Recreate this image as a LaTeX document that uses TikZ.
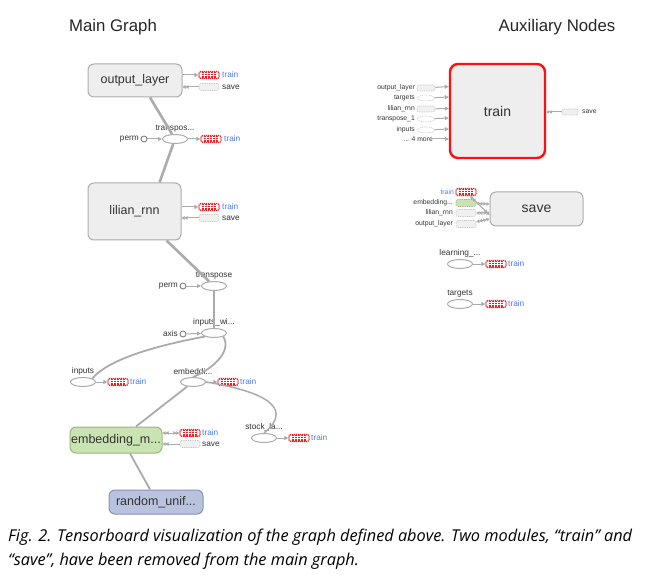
\documentclass[tikz,border=0pt]{standalone}
\usepackage{fontspec}
\setmainfont{Liberation Sans}
\newfontfamily\capfont{Open Sans}
\usetikzlibrary{shapes.geometric,arrows.meta}
\definecolor{edgegray}{HTML}{ABABAB}
\definecolor{boxfill}{HTML}{EEEEEE}
\definecolor{boxborder}{HTML}{ADADAD}
\definecolor{greenfill}{HTML}{C9E3B2}
\definecolor{greenborder}{HTML}{98B67E}
\definecolor{bluefill}{HTML}{B9C3DF}
\definecolor{blueborder}{HTML}{8893B5}
\definecolor{trainblue}{HTML}{4A7BF0}
\definecolor{chipred}{HTML}{F01E1E}
\definecolor{txt}{HTML}{333333}
\definecolor{trainred}{HTML}{FF1010}
\tikzset{
  opbox/.style={draw=boxborder, fill=boxfill, rounded corners=6pt, line width=1pt,
    font=\fontsize{12.5}{14}\selectfont, text=txt, inner sep=0},
  opell/.style={ellipse, draw=edgegray, fill=white, line width=1pt,
    minimum width=25pt, minimum height=9pt, inner sep=0},
  constc/.style={circle, draw=gray, line width=0.9pt, minimum size=6pt, inner sep=0, fill=white},
  redchip/.style={draw=chipred, dash pattern=on 1.2pt off 0.8pt, rounded corners=2pt,
    minimum width=20pt, minimum height=7pt, inner sep=0, line width=1.3pt, fill=white,
    path picture={\foreach \dx in {-6,-3,0,3,6}
      \draw[chipred, line width=1.3pt, dash pattern=on 1.1pt off 0.7pt]
        ([xshift=\dx pt]path picture bounding box.south) -- ([xshift=\dx pt]path picture bounding box.north);}},
  graychip/.style={draw=gray!45, dash pattern=on 1pt off 0.8pt, fill=gray!12, rounded corners=2pt,
    minimum width=20pt, minimum height=7pt, inner sep=0, line width=0.6pt},
  greenchip/.style={graychip, draw=greenborder, fill=greenfill},
  ellchip/.style={ellipse, draw=gray!45, dash pattern=on 1pt off 0.8pt, fill=white,
    minimum width=17pt, minimum height=6pt, inner sep=0, line width=0.6pt},
  small/.style={font=\fontsize{8.3}{9}\selectfont, text=txt, inner sep=0},
  tiny/.style={font=\fontsize{6.8}{8}\selectfont, text=txt, inner sep=0},
  bluetxt/.style={small, text=trainblue},
  tensor/.style={draw=edgegray, line width=2.6pt},
  tensorthin/.style={draw=edgegray, line width=1.8pt},
  ref/.style={draw=edgegray, line width=1pt, -{Triangle[length=4pt,width=4pt]}},
  dref/.style={draw=edgegray, line width=1pt, -{Triangle[length=3pt,width=3.5pt] Triangle[length=3pt,width=3.5pt]}},
  bref/.style={draw=edgegray, line width=1pt, {Triangle[length=3pt,width=3.5pt] Triangle[length=3pt,width=3.5pt]}-{Triangle[length=3pt,width=3.5pt] Triangle[length=3pt,width=3.5pt]}},
  titletxt/.style={font=\fontsize{16.8}{18}\selectfont, text=black!85, inner sep=0},
  captxt/.style={font=\capfont\itshape\fontsize{16.3}{18}\selectfont, text=black, inner sep=0, anchor=west}
}
\begin{document}
\begin{tikzpicture}[x=1pt,y=-1pt]
\useasboundingbox (0,0) rectangle (654,575);
% titles
\node[titletxt] (t1) at (113,27) {Main Graph};
\node[titletxt] (t2) at (557,27) {Auxiliary Nodes};

% ===== main graph =====
\node[opbox, minimum width=94pt, minimum height=33pt] (OL) at (135,80.5) {output\_layer};
\node[redchip] (olc1) at (209,75) {};
\node[bluetxt, anchor=west] (olt1) at (222,75) {train};
\node[graychip] (olc2) at (209,87) {};
\node[small, anchor=west] (olt2) at (222,87) {save};
\draw[ref] (OL.east |- olc1) -- (olc1);
\draw[dref] (olc2) -- (OL.east |- olc2);

\node[opell, label={[small, yshift=2pt]above:transpos...}] (T1) at (175,139) {};
\node[constc] (p1) at (144,139) {};
\node[small, anchor=east] (p1t) at (139,139) {perm};
\draw[ref] (p1) -- (T1);
\node[redchip] (t1c) at (211,139) {};
\node[bluetxt, anchor=west] (t1t) at (224,139) {train};
\draw[ref] (T1) -- (t1c);

\node[opbox, minimum width=93pt, minimum height=57pt] (LR) at (134.5,211.5) {lilian\_rnn};
\node[redchip] (lrc1) at (209,207) {};
\node[bluetxt, anchor=west] (lrt1) at (222,207) {train};
\node[graychip] (lrc2) at (209,218) {};
\node[small, anchor=west] (lrt2) at (222,218) {save};
\draw[ref] (LR.east |- lrc1) -- (lrc1);
\draw[dref] (lrc2) -- (LR.east |- lrc2);

\draw[tensor] ([xshift=15pt]OL.south) -- (T1);
\draw[tensor] (T1) -- ([xshift=25pt]LR.north);

\node[opell, label={[small, yshift=2pt]above:transpose}] (T2) at (214,286) {};
\node[constc] (p2) at (183,286) {};
\node[small, anchor=east] (p2t) at (178,286) {perm};
\draw[ref] (p2) -- (T2);
\draw[tensor] ([xshift=32pt]LR.south) -- (T2);

\node[opell, label={[small, yshift=2pt]above:inputs\_wi...}] (IW) at (214,333) {};
\node[constc] (ax) at (183,334) {};
\node[small, anchor=east] (axt) at (178,334) {axis};
\draw[ref] (ax) -- (IW);
\draw[tensorthin] (T2) -- (IW);

\node[opell, label={[small, yshift=2pt]above:inputs}] (IN) at (83,382) {};
\node[redchip] (inc) at (118,382) {};
\node[bluetxt, anchor=west] (int) at (130,382) {train};
\draw[ref] (IN) -- (inc);

\node[opell, label={[small, yshift=2pt]above:embeddi...}] (EM) at (193,382) {};
\node[redchip] (emc) at (228,382) {};
\node[bluetxt, anchor=west] (emt) at (240,382) {train};
\draw[ref] (EM) -- (emc);

\draw[tensorthin] (IW.south west) .. controls (160,345) and (110,358) .. (IN.north east);
\draw[tensorthin] (IW.south east) .. controls (232,350) and (215,368) .. (EM.north);

\node[opell, label={[small, yshift=2pt]above:stock\_la...}] (ST) at (264,438) {};
\node[redchip] (stc) at (299,438) {};
\node[bluetxt, anchor=west] (stt) at (311,438) {train};
\draw[ref] (ST) -- (stc);
\draw[draw=edgegray, line width=1.5pt] (EM.east) .. controls (255,390) and (298,405) .. (ST.north);

\node[opbox, draw=greenborder, fill=greenfill, minimum width=92pt, minimum height=26pt] (EB) at (116,440) {embedding\_m...};
\node[redchip] (ebc1) at (190,433) {};
\node[bluetxt, anchor=west] (ebt1) at (202,433) {train};
\node[graychip] (ebc2) at (190,444) {};
\node[small, anchor=west] (ebt2) at (202,444) {save};
\draw[bref] (EB.east |- ebc1) -- (ebc1);
\draw[dref] (ebc2) -- (EB.east |- ebc2);
\draw[tensorthin] (EM) -- ([xshift=20pt]EB.north);

\node[opbox, draw=blueborder, fill=bluefill, minimum width=94pt, minimum height=24pt] (RU) at (156,502) {random\_unif...};
\draw[tensorthin] ([xshift=14pt]EB.south) -- ([xshift=-6pt]RU.north);

% ===== auxiliary nodes =====
\node[opbox, draw=trainred, line width=2.4pt, rounded corners=8pt, minimum width=95pt, minimum height=94pt,
  font=\fontsize{14}{16}\selectfont] (TR) at (497.5,111) {train};
\node[graychip, minimum width=18pt, minimum height=6pt] (a1) at (426,88) {};
\node[tiny, anchor=east] (a1t) at (415,88) {output\_layer};
\node[ellchip] (a2) at (426,98) {};
\node[tiny, anchor=east] (a2t) at (415,98) {targets};
\node[graychip, minimum width=18pt, minimum height=6pt] (a3) at (426,109) {};
\node[tiny, anchor=east] (a3t) at (415,109) {lilian\_rnn};
\node[ellchip] (a4) at (426,119) {};
\node[tiny, anchor=east] (a4t) at (415,119) {transpose\_1};
\node[ellchip] (a5) at (426,130) {};
\node[tiny, anchor=east] (a5t) at (415,130) {inputs};
\node[tiny, anchor=east] (a6t) at (433,139) {... 4 more};
\draw[ref] (a1) -- ([yshift=1.5pt]TR.west |- a1);
\draw[ref] (a2) -- ([yshift=1pt]TR.west |- a2);
\draw[ref] (a3) -- ([yshift=0.5pt]TR.west |- a3);
\draw[ref] (a4) -- ([yshift=1pt]TR.west |- a4);
\draw[ref] (a5) -- ([yshift=1pt]TR.west |- a5);
\draw[ref] (a6t) -- (TR.west |- a6t);
\node[graychip, minimum width=16pt, minimum height=6pt] (trs) at (570,112) {};
\node[tiny, anchor=west] (trst) at (582,112) {save};
\draw[dref] (trs) -- (TR.east |- trs);

\node[opbox, minimum width=93pt, minimum height=34pt, font=\fontsize{14}{16}\selectfont] (SV) at (536.5,209) {save};
\node[redchip] (s1) at (466,192) {};
\node[tiny, text=trainblue, anchor=east] (s1t) at (454,192) {train};
\node[greenchip] (s2) at (466,203) {};
\node[tiny, anchor=east] (s2t) at (453,203) {embedding...};
\node[graychip] (s3) at (466,213) {};
\node[tiny, anchor=east] (s3t) at (453,213) {lilian\_rnn};
\node[graychip] (s4) at (466,224) {};
\node[tiny, anchor=east] (s4t) at (453,224) {output\_layer};
\draw[bref] (s1) -- ([yshift=-6pt]SV.west);
\draw[bref] (s2) -- ([yshift=-1pt]SV.west |- s2);
\draw[bref] (s3) -- (SV.west |- s3);
\draw[bref] (s4) -- ([yshift=5pt]SV.west |- s4);

\node[opell, label={[small, yshift=2pt]above:learning\_...}] (LE) at (460,264) {};
\node[redchip] (lec) at (496,264) {};
\node[bluetxt, anchor=west] (let) at (508,264) {train};
\draw[ref] (LE) -- (lec);

\node[opell, label={[small, yshift=2pt]above:targets}] (TG) at (460,304) {};
\node[redchip] (tgc) at (496,304) {};
\node[bluetxt, anchor=west] (tgt) at (508,304) {train};
\draw[ref] (TG) -- (tgc);

% caption
\node[captxt] (c1) at (8,537) {Fig. 2. Tensorboard visualization of the graph defined above. Two modules, “train” and};
\node[captxt] (c2) at (8,561) {“save”, have been removed from the main graph.};
\end{tikzpicture}
\end{document}
